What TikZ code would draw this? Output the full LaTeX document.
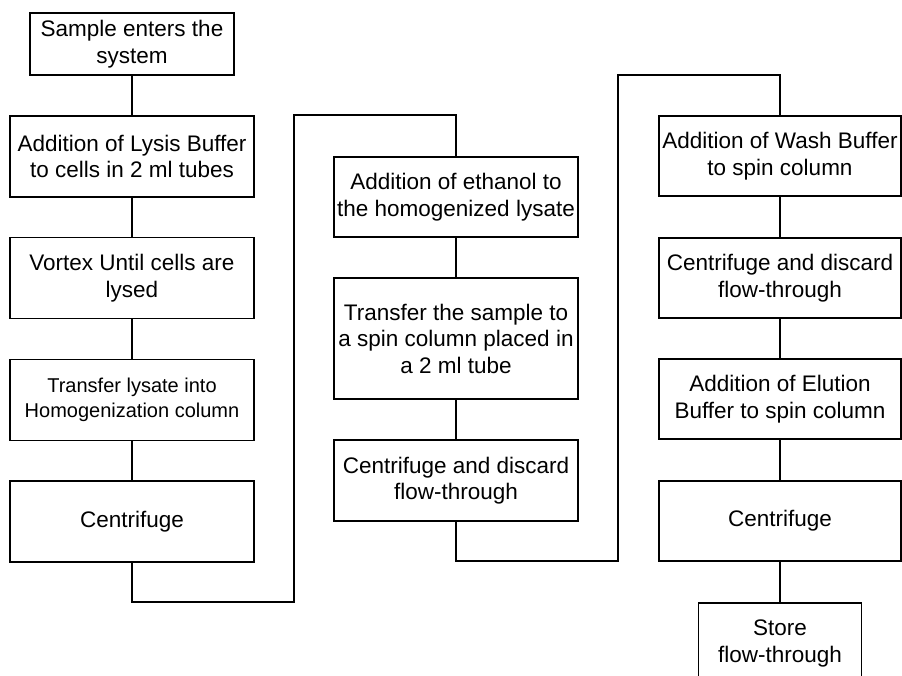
\documentclass[tikz,border=0pt]{standalone}
\usepackage{fontspec}
\setmainfont{Liberation Sans}
\begin{document}
\begin{tikzpicture}[x=1pt,y=-1pt,
  box/.style={draw, line width=1.4pt, inner sep=0pt, align=center,
    font=\fontsize{22.5}{26.5}\selectfont},
  smalltext/.style={font=\fontsize{20}{25}\selectfont},
  link/.style={line width=1.4pt}]
\useasboundingbox (0,0) rectangle (902,676);
\clip (0,0) rectangle (902,676);
% column 1
\node[box, minimum width=204pt, minimum height=62pt] (b1) at (132,44) {Sample enters the\\system};
\node[box, minimum width=244pt, minimum height=81pt] (b2) at (132,156.5) {Addition of Lysis Buffer\\to cells in 2 ml tubes};
\node[box, minimum width=244pt, minimum height=81pt] (b3) at (132,278) {Vortex Until cells are\\lysed};
\node[box, smalltext, minimum width=244pt, minimum height=81pt] (b4) at (132,400) {Transfer lysate into\\Homogenization column};
\node[box, minimum width=244pt, minimum height=81pt] (b5) at (132,521.5) {Centrifuge};
% column 2
\node[box, minimum width=244pt, minimum height=80pt] (c1) at (456,197) {Addition of ethanol to\\the homogenized lysate};
\node[box, minimum width=244pt, minimum height=121pt] (c2) at (456,338.5) {Transfer the sample to\\a spin column placed in\\a 2 ml tube};
\node[box, minimum width=244pt, minimum height=81pt] (c3) at (456,480.5) {Centrifuge and discard\\flow-through};
% column 3
\node[box, minimum width=242pt, minimum height=80pt] (d1) at (780,156) {Addition of Wash Buffer\\to spin column};
\node[box, minimum width=242pt, minimum height=80pt] (d2) at (780,278) {Centrifuge and discard\\flow-through};
\node[box, minimum width=242pt, minimum height=80pt] (d3) at (780,399) {Addition of Elution\\Buffer to spin column};
\node[box, minimum width=242pt, minimum height=80pt] (d4) at (780,521) {Centrifuge};
\node[box, minimum width=163pt, minimum height=81pt] (d5) at (780,643.5) {Store\\flow-through};
% junction points
\coordinate (j1) at (294,602);
\coordinate (j2) at (294,115);
\coordinate (k1) at (618,561);
\coordinate (k2) at (618,75);
% connectors
\draw[link] (b1) -- (b2);
\draw[link] (b2) -- (b3);
\draw[link] (b3) -- (b4);
\draw[link] (b4) -- (b5);
\draw[link] (b5.south) |- (j1) -- (j2) -| (c1.north);
\draw[link] (c1) -- (c2);
\draw[link] (c2) -- (c3);
\draw[link] (c3.south) |- (k1) -- (k2) -| (d1.north);
\draw[link] (d1) -- (d2);
\draw[link] (d2) -- (d3);
\draw[link] (d3) -- (d4);
\draw[link] (d4) -- (d5);
\end{tikzpicture}
\end{document}
